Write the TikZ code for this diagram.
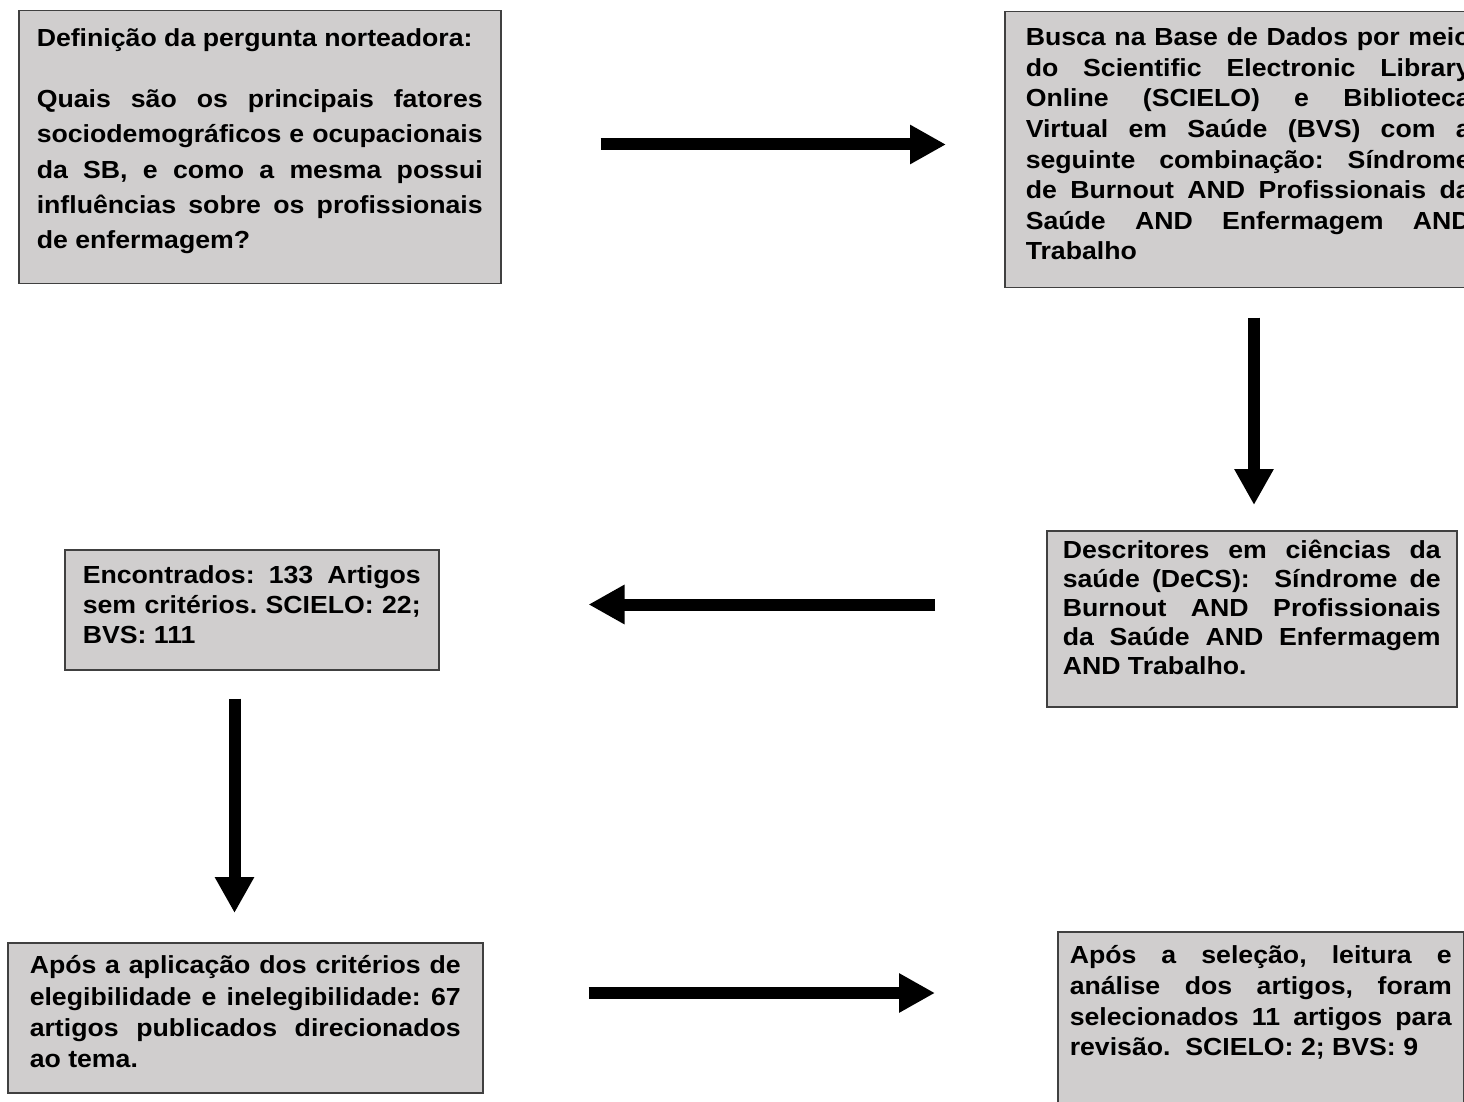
\documentclass[tikz,border=0pt]{standalone}
\usepackage{fontspec}
\setmainfont[FakeStretch=1.08]{Liberation Sans}
\usepackage{xcolor}
\usepackage{tikz}
\usetikzlibrary{arrows.meta}
\definecolor{caixa}{HTML}{D0CECE}
\newcommand{\corpo}[1]{\fontsize{12.35pt}{#1}\selectfont\bfseries}
\frenchspacing
\hyphenpenalty=10000
\exhyphenpenalty=10000
\tolerance=10000
\hbadness=10000
\tikzset{
  passo/.style={rectangle, draw=black!75, line width=0.75pt, fill=caixa, align=justify, anchor=north west, inner ysep=0pt},
  seta/.style={-{Triangle[length=18pt, width=18.5pt]}, line width=6pt, black},
}

\begin{document}
\begin{tikzpicture}[x=0.5pt, y=-0.5pt]
\useasboundingbox (0,0) rectangle (1464,1102);
\node[passo, font=\corpo{17.6pt}, text width=223pt, inner xsep=9pt, text height=18pt, text depth=118.5pt] (q) at (18,10) {Definição da pergunta norteadora:\\[12.9pt]Quais são os principais fatores \linebreak sociodemográficos e ocupacionais \linebreak da SB, e como a mesma possui \linebreak influências sobre os profissionais \linebreak de enfermagem?};
\node[passo, font=\corpo{15.3pt}, text width=222.5pt, inner xsep=10.5pt, text height=17pt, text depth=121pt] (busca) at (1004,11) {Busca na Base de Dados por meio \linebreak do Scientific Electronic Library \linebreak Online (SCIELO) e Biblioteca \linebreak Virtual em Saúde (BVS) com a \linebreak seguinte combinação: Síndrome \linebreak de Burnout AND Profissionais da \linebreak Saúde AND Enfermagem AND \linebreak Trabalho};
\node[passo, font=\corpo{14.5pt}, text width=189pt, inner xsep=8pt, text height=14pt, text depth=74pt] (desc) at (1046,530) {Descritores em ciências da \linebreak saúde (DeCS): \ Síndrome de \linebreak Burnout AND Profissionais \linebreak da Saúde AND Enfermagem \linebreak AND Trabalho.};
\node[passo, font=\corpo{15pt}, text width=169pt, inner xsep=9pt, text height=17pt, text depth=43pt] (enc) at (64,549) {Encontrados: 133 Artigos \linebreak sem critérios. SCIELO: 22; \linebreak BVS: 111};
\node[passo, font=\corpo{15.65pt}, text width=215.5pt, inner xsep=11pt, text height=15.5pt, text depth=59.5pt] (apos) at (7,942) {Após a aplicação dos critérios de \linebreak elegibilidade e inelegibilidade: 67 \linebreak artigos publicados direcionados \linebreak ao tema.};
\node[passo, font=\corpo{15.35pt}, text width=191pt, inner xsep=6pt, text height=16pt, text depth=83.5pt] (sel) at (1057,931) {Após a seleção, leitura e \linebreak análise dos artigos, foram \linebreak selecionados 11 artigos para \linebreak revisão. \ SCIELO: 2; BVS: 9};
\draw[seta, shorten <=49.5pt, shorten >=29pt] (q.east |- 0,144.5) -- (busca.west |- 0,144.5);
\draw[seta, shorten <=14.5pt, shorten >=12.5pt] (busca.south -| 1254,0) -- (desc.north -| 1254,0);
\draw[seta, shorten <=55.5pt, shorten >=74.5pt] (desc.west |- 0,604.5) -- (enc.east |- 0,604.5);
\draw[seta, shorten <=14pt, shorten >=14.5pt] (enc.south -| 234.5,0) -- (apos.north -| 234.5,0);
\draw[seta, shorten <=52.5pt, shorten >=61pt] (apos.east |- 0,993) -- (sel.west |- 0,993);
\end{tikzpicture}
\end{document}
